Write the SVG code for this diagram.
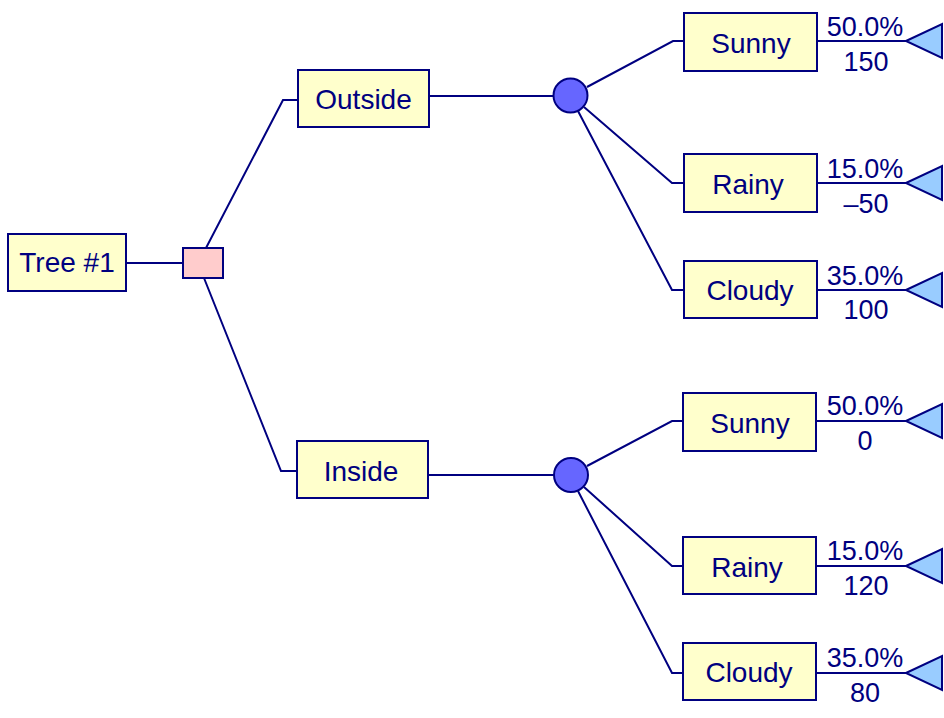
<svg xmlns="http://www.w3.org/2000/svg" width="944" height="718" viewBox="0 0 944 718">
<style>
.box{fill:#FFFFCC;stroke:#000080;stroke-width:2}
.dec{fill:#FFCCCC;stroke:#000080;stroke-width:2}
.chance{fill:#6666FF;stroke:#000080;stroke-width:2}
.term{fill:#99CCFF;stroke:#000080;stroke-width:2}
.lbl{font-family:"Liberation Sans",Arial,sans-serif;font-size:28px;fill:#000080;text-anchor:middle}
.val{font-family:"Liberation Sans",Arial,sans-serif;font-size:27px;fill:#000080;text-anchor:middle}
#connectors polyline,#connectors line{fill:none;stroke:#000080;stroke-width:2}
</style>
<rect width="944" height="718" fill="#FFFFFF"/>
<g id="connectors">
<line x1="126" y1="263" x2="183" y2="263"/>
<polyline points="206,248 283,100 298,100"/>
<polyline points="204,278 281,471 297,471"/>
<line x1="429" y1="96" x2="553" y2="96"/>
<line x1="428" y1="475" x2="554" y2="475"/>
<polyline points="587,87 673,41 684,41"/>
<polyline points="584,107 672,183 684,183"/>
<polyline points="578,111 672,290 684,290"/>
<polyline points="587,466 672,421 683,421"/>
<polyline points="584,487 672,566 683,566"/>
<polyline points="578,491 672,673 683,673"/>
<line x1="817" y1="41" x2="906" y2="41"/>
<line x1="817" y1="183" x2="906" y2="183"/>
<line x1="817" y1="290" x2="906" y2="290"/>
<line x1="816" y1="421" x2="906" y2="421"/>
<line x1="816" y1="566" x2="906" y2="566"/>
<line x1="816" y1="673" x2="906" y2="673"/>
</g>
<g id="tree1"><rect class="box" x="8" y="234" width="118" height="57"/><text class="lbl" x="67" y="272">Tree #1</text></g>
<g id="decision"><rect class="dec" x="183" y="248" width="40" height="30"/></g>
<g id="outside"><rect class="box" x="298" y="70" width="131" height="57"/><text class="lbl" x="363.5" y="109">Outside</text></g>
<g id="inside"><rect class="box" x="297" y="441" width="131" height="57"/><text class="lbl" x="361" y="481">Inside</text></g>
<g id="chance1"><circle class="chance" cx="570.5" cy="95.5" r="17"/></g>
<g id="chance2"><circle class="chance" cx="571" cy="475" r="17"/></g>
<g id="out-sunny"><rect class="box" x="684" y="13" width="133" height="58"/><text class="lbl" x="751" y="53">Sunny</text></g>
<g id="out-rainy"><rect class="box" x="684" y="154" width="133" height="58"/><text class="lbl" x="748" y="194">Rainy</text></g>
<g id="out-cloudy"><rect class="box" x="684" y="261" width="133" height="57"/><text class="lbl" x="750" y="300">Cloudy</text></g>
<g id="in-sunny"><rect class="box" x="683" y="393" width="133" height="58"/><text class="lbl" x="750" y="433">Sunny</text></g>
<g id="in-rainy"><rect class="box" x="683" y="537" width="133" height="57"/><text class="lbl" x="747" y="577">Rainy</text></g>
<g id="in-cloudy"><rect class="box" x="683" y="643" width="133" height="57"/><text class="lbl" x="749" y="682">Cloudy</text></g>
<g id="term-out-sunny"><polygon class="term" points="906,41 942,24 942,58"/><text class="val" x="865" y="36">50.0%</text><text class="val" x="866" y="71">150</text></g>
<g id="term-out-rainy"><polygon class="term" points="906,183 942,166 942,200"/><text class="val" x="865" y="178">15.0%</text><text class="val" x="866" y="213">–50</text></g>
<g id="term-out-cloudy"><polygon class="term" points="906,290 942,273 942,307"/><text class="val" x="865" y="285">35.0%</text><text class="val" x="866" y="319">100</text></g>
<g id="term-in-sunny"><polygon class="term" points="906,421 942,404 942,438"/><text class="val" x="865" y="415">50.0%</text><text class="val" x="865" y="450">0</text></g>
<g id="term-in-rainy"><polygon class="term" points="906,566 942,549 942,583"/><text class="val" x="865" y="560">15.0%</text><text class="val" x="866" y="595">120</text></g>
<g id="term-in-cloudy"><polygon class="term" points="906,673 942,656 942,690"/><text class="val" x="865" y="667">35.0%</text><text class="val" x="865" y="702">80</text></g>
</svg>
